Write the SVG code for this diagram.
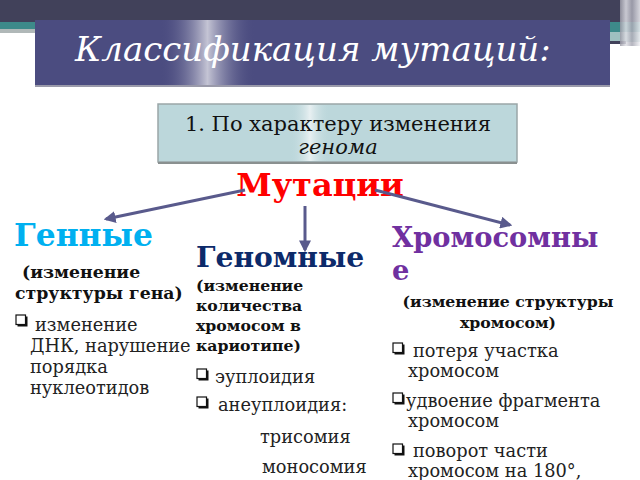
<svg xmlns="http://www.w3.org/2000/svg" width="640" height="480" viewBox="0 0 640 480">
<defs>
<linearGradient id="hl" x1="0" y1="0" x2="1" y2="0">
<stop offset="0" stop-color="#4b4c80" stop-opacity="0"/>
<stop offset="0.5" stop-color="#c4c4d4"/>
<stop offset="1" stop-color="#4b4c80" stop-opacity="0"/>
</linearGradient>
<linearGradient id="hl2" x1="0" y1="0" x2="1" y2="0">
<stop offset="0" stop-color="#bcd7db" stop-opacity="0"/>
<stop offset="0.5" stop-color="#e8f0f2"/>
<stop offset="1" stop-color="#bcd7db" stop-opacity="0"/>
</linearGradient>
<linearGradient id="rs" x1="0" y1="0" x2="1" y2="0">
<stop offset="0" stop-color="#9a9aa6"/>
<stop offset="0.3" stop-color="#e0e0e6"/>
<stop offset="0.6" stop-color="#a8a8b4"/>
<stop offset="1" stop-color="#f0f0f4"/>
</linearGradient>
<marker id="ah" viewBox="0 0 10 10" refX="8" refY="5" markerWidth="4" markerHeight="4" orient="auto">
<path d="M0,0 L10,5 L0,10 z" fill="#595a8c"/>
</marker>
<g id="cbox">
<rect x="1.5" y="1.5" width="10" height="10" fill="#111"/>
<rect x="0" y="0" width="9.5" height="9.5" fill="#fff" stroke="#111" stroke-width="1.2"/>
</g>
</defs>
<style>
.t{font-family:"DejaVu Serif","Liberation Serif",serif;}
.h{font-weight:bold;}
.sub{font-weight:bold;font-size:15.7px;fill:#111;}
.sg{font-weight:bold;font-size:17.3px;fill:#111;}
.b{font-size:17.8px;fill:#222;}
.conn line{stroke:#595a8c;stroke-width:3;marker-end:url(#ah);}
</style>
<rect width="640" height="480" fill="#fff"/>
<g id="header">
<rect x="0" y="0" width="640" height="22" fill="#41415a"/>
<rect x="0" y="22" width="36" height="7" fill="#3d8a8a"/>
<rect x="0" y="29" width="36" height="4" fill="#b0b8b8"/>
<rect x="608" y="22" width="32" height="10" fill="#3d8a8a"/>
<rect x="608" y="32" width="32" height="10" fill="#9fc0c0"/>
<rect x="600" y="41" width="26" height="3" fill="#41415a"/>
<rect x="620" y="0" width="20" height="46" fill="url(#rs)" opacity="0.85"/>
<rect x="35" y="20" width="575" height="65" fill="#4b4c80"/>
<rect x="160" y="20" width="95" height="65" fill="url(#hl)"/>
<rect x="35" y="85" width="575" height="2" fill="#9a9aaa"/>
<text class="t" x="75" y="61" font-size="34" font-style="italic" fill="#fff">Классификация мутаций:</text>
</g>
<g id="criterion">
<rect x="158" y="104" width="359" height="58" fill="#bcd7db" stroke="#9aa6a8" stroke-width="1.5"/>
<rect x="290" y="105" width="40" height="56" fill="url(#hl2)"/>
<rect x="158" y="162" width="359" height="2" fill="#8a9090"/>
<text class="t" x="338" y="131" font-size="21" text-anchor="middle" fill="#111">1. По характеру изменения</text>
<text class="t" x="338" y="154" font-size="21" font-style="italic" text-anchor="middle" fill="#111">генома</text>
</g>
<g id="root">
<text class="t h" x="320" y="196" font-size="32" text-anchor="middle" fill="#ff0000">Мутации</text>
</g>
<g class="conn" id="connectors">
<line x1="245" y1="190" x2="106" y2="219"/>
<line x1="305" y1="206" x2="305" y2="250"/>
<line x1="375" y1="190" x2="510" y2="225"/>
</g>
<g id="gene">
<text class="t h" x="14" y="246" font-size="31.4" fill="#00b0f0">Генные</text>
<text class="t sg" x="22" y="278">(изменение</text>
<text class="t sg" x="15" y="299">структуры гена)</text>
<use href="#cbox" x="16" y="315"/>
<text class="t b" x="35" y="331">изменение</text>
<text class="t b" x="30" y="352">ДНК, нарушение</text>
<text class="t b" x="30" y="373">порядка</text>
<text class="t b" x="30" y="394">нуклеотидов</text>
</g>
<g id="genome">
<text class="t h" x="196" y="267" font-size="28.2" fill="#0c2a6a">Геномные</text>
<text class="t sub" x="196" y="291">(изменение</text>
<text class="t sub" x="196" y="311">количества</text>
<text class="t sub" x="196" y="331">хромосом в</text>
<text class="t sub" x="196" y="351">кариотипе)</text>
<use href="#cbox" x="197" y="369"/>
<text class="t b" x="215" y="383">эуплоидия</text>
<use href="#cbox" x="197" y="397"/>
<text class="t b" x="218" y="411">анеуплоидия:</text>
<text class="t b" x="260" y="443">трисомия</text>
<text class="t b" x="262" y="473">моносомия</text>
</g>
<g id="chromosome">
<text class="t h" x="392" y="247" font-size="27.3" fill="#7030a0">Хромосомны</text>
<text class="t h" x="392" y="280" font-size="27.3" fill="#7030a0">е</text>
<text class="t sub" x="508" y="307" text-anchor="middle">(изменение структуры</text>
<text class="t sub" x="508" y="328" text-anchor="middle">хромосом)</text>
<use href="#cbox" x="393" y="343"/>
<text class="t b" x="413" y="357">потеря участка</text>
<text class="t b" x="408" y="377">хромосом</text>
<use href="#cbox" x="393" y="393"/>
<text class="t b" x="406" y="407">удвоение фрагмента</text>
<text class="t b" x="408" y="427">хромосом</text>
<use href="#cbox" x="393" y="444"/>
<text class="t b" x="413" y="457">поворот части</text>
<text class="t b" x="408" y="477">хромосом на 180°,</text>
</g>
</svg>
